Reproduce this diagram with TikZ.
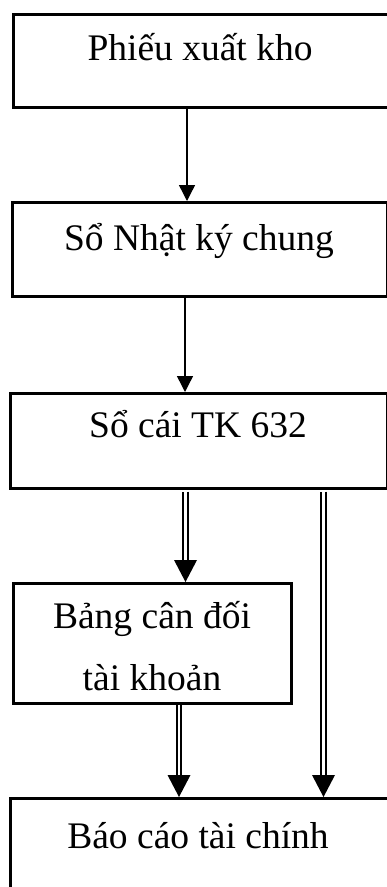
\documentclass[tikz,border=0pt]{standalone}
\usepackage{fontspec}
\setmainfont{Liberation Serif}
\usetikzlibrary{arrows.meta}
\begin{document}
\begin{tikzpicture}[x=1pt,y=-1pt,
  box/.style={draw, line width=2.5pt, inner sep=0pt, anchor=north west},
  lbl/.style={inner sep=0pt, anchor=base, font=\fontsize{37.5}{45}\selectfont},
  arr/.style={line width=1.4pt, -{Triangle[length=16pt,width=16pt]}},
  dshaft/.style={double, double distance=2.6pt, line width=1.9pt, shorten >=20pt},
  dtip/.style={fill=black}]
\useasboundingbox (0,0) rectangle (387,887);
\clip (0,0) rectangle (387,887);
% boxes
\node[box, minimum width=379pt, minimum height=93pt] (b1) at (12,13) {};
\node[box, minimum width=375pt, minimum height=94pt] (b2) at (11,201) {};
\node[box, minimum width=377pt, minimum height=95pt] (b3) at (9,392) {};
\node[box, minimum width=278pt, minimum height=120pt] (b4) at (12,582) {};
\node[box, minimum width=383pt, minimum height=110pt] (b5) at (9,797) {};
% texts
\node[lbl] (t1) at (200,60) {Phiếu xuất kho};
\node[lbl] (t2) at (199,250) {Sổ Nhật ký chung};
\node[lbl] (t3) at (198,437) {Sổ cái TK 632};
\node[lbl] (t4a) at (152,628) {Bảng cân đối};
\node[lbl] (t4b) at (152,690) {tài khoản};
\node[lbl] (t5) at (198,848) {Báo cáo tài chính};
% x positions of connectors
\coordinate (xa) at (187,0);
\coordinate (xe) at (185,0);
\coordinate (xb) at (185.5,0);
\coordinate (xc) at (323.5,0);
\coordinate (xd) at (179,0);
% single arrows
\draw[arr] (b1.south -| xa) -- (b2.north -| xa);
\draw[arr] (b2.south -| xe) -- (b3.north -| xe);
% double arrows
\draw[dshaft] ([yshift=-2pt]b3.south -| xb) -- (b4.north -| xb);
\fill[dtip] (b4.north -| xb) -- ++(-11.5,-22) -- ++(23,0) -- cycle;
\draw[dshaft] ([yshift=-2pt]b3.south -| xc) -- (b5.north -| xc);
\fill[dtip] (b5.north -| xc) -- ++(-11.5,-22) -- ++(23,0) -- cycle;
\draw[dshaft] (b4.south -| xd) -- (b5.north -| xd);
\fill[dtip] (b5.north -| xd) -- ++(-11.5,-22) -- ++(23,0) -- cycle;
\end{tikzpicture}
\end{document}
